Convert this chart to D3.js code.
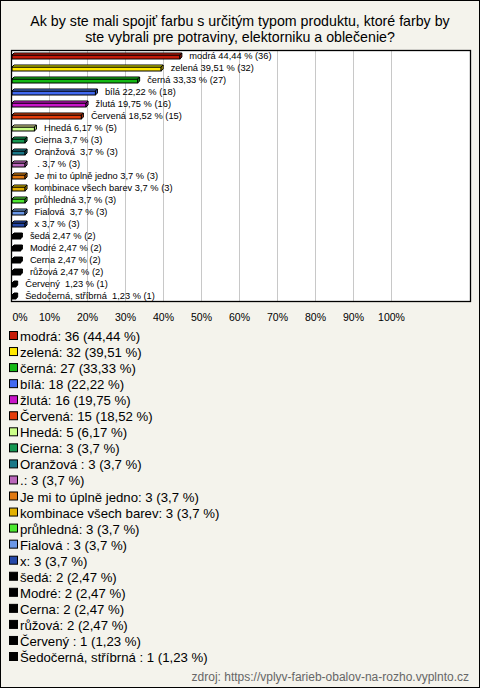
<!DOCTYPE html>
<html><head><meta charset="utf-8">
<script src="https://cdn.jsdelivr.net/npm/d3@7"></script>
<style>
html,body{margin:0;padding:0;background:#f4f3ec;}
svg text{font-family:"Liberation Sans",Arial,sans-serif;white-space:pre;}
</style></head>
<body>
<svg id="c" width="480" height="688"></svg>
<script>
const categories = ["modrá","zelená","černá","bílá","žlutá","Červená","Hnedá","Cierna","Oranžová ",".","Je mi to úplně jedno","kombinace všech barev","průhledná","Fialová ","x","šedá","Modré","Cerna","růžová","Červený ","Šedočerná, stříbrná "];
const counts = [36,32,27,18,16,15,5,3,3,3,3,3,3,3,3,2,2,2,2,1,1];
const percents = ["44,44","39,51","33,33","22,22","19,75","18,52","6,17","3,7","3,7","3,7","3,7","3,7","3,7","3,7","3,7","2,47","2,47","2,47","2,47","1,23","1,23"];
const shares = [0.4444,0.3951,0.3333,0.2222,0.1975,0.1852,0.0617,0.037,0.037,0.037,0.037,0.037,0.037,0.037,0.037,0.0247,0.0247,0.0247,0.0247,0.0123,0.0123];
const colors = ["#c41a08","#ffe800","#14b814","#4169f0","#c814c8","#e43c0c","#ccff88","#149650","#1a7888","#bb66bb","#e07810","#e2b000","#4ce830","#6b98e8","#2548a8","#000","#000","#000","#000","#000","#000"];
const tickValues = [0,0.1,0.2,0.3,0.4,0.5,0.6,0.7,0.8,0.9,1.0];
const tickLabels = ["0%","10%","20%","30%","40%","50%","60%","70%","80%","90%","100%"];
const title = ["Ak by ste mali spojiť farbu s určitým typom produktu, ktoré farby by","ste vybrali pre potraviny, elektorniku a oblečenie?"];
const source = "zdroj: https://vplyv-farieb-obalov-na-rozho.vyplnto.cz";

const svg = d3.select("#c");
svg.append("rect").attr("x",0.5).attr("y",0.5).attr("width",479).attr("height",687)
  .attr("fill","#f4f3ec").attr("stroke","#000");

svg.selectAll("text.title").data(title).join("text").attr("class","title")
  .attr("x",240).attr("y",(d,i)=>26+i*16).attr("text-anchor","middle")
  .attr("font-size",14.2).attr("fill","#000").text(d=>d);

const plot = {x0:11, x1:470, y0:50, y1:301};
const x = d3.scaleLinear().domain([0,1]).range([11,391]);
const y = d3.scaleBand().domain(d3.range(categories.length)).range([plot.y0, plot.y0 + 12*categories.length]).padding(0);

svg.append("rect").attr("x",plot.x0+0.5).attr("y",plot.y0+0.5)
  .attr("width",plot.x1-plot.x0).attr("height",plot.y1-plot.y0)
  .attr("fill","#fff").attr("stroke","none");
svg.selectAll("line.grid").data(tickValues.slice(1)).join("line").attr("class","grid")
  .attr("x1",d=>Math.round(x(d))+0.5).attr("x2",d=>Math.round(x(d))+0.5)
  .attr("y1",plot.y0).attr("y2",plot.y1).attr("stroke","#c8c8c8").attr("stroke-width",1);

const d = 2;
const g = svg.append("g");
categories.forEach((c,i)=>{
  const cy = y(i) + y.bandwidth()/2;
  const x0 = x(0)+1, xv = x(shares[i]);
  const top = cy - 1, bot = cy + 3;
  const col = d3.color(colors[i]);
  const light = colors[i]==="#000" ? "#000" : col.brighter(0.6).formatHex();
  const dark = colors[i]==="#000" ? "#000" : col.darker(0.5).formatHex();
  g.append("rect").attr("x",x0).attr("y",top).attr("width",Math.max(1,xv-x0)).attr("height",bot-top)
    .attr("fill",colors[i]).attr("stroke","#000").attr("stroke-width",1);
  g.append("path").attr("d",`M${x0},${top}L${x0+d},${top-d}L${xv+d},${top-d}L${xv},${top}Z`)
    .attr("fill",light).attr("stroke","#000").attr("stroke-width",1).attr("stroke-linejoin","round");
  g.append("path").attr("d",`M${xv},${top}L${xv+d},${top-d}L${xv+d},${bot-d}L${xv},${bot}Z`)
    .attr("fill",dark).attr("stroke","#000").attr("stroke-width",1).attr("stroke-linejoin","round");
  const lbl = (c==="." ? " ." : c) + " " + percents[i] + " % (" + counts[i] + ")";
  g.append("text").attr("x",xv+9.5).attr("y",cy+3.3).attr("font-size",9.3)
    .attr("fill","#000").text(lbl);
});

svg.append("rect").attr("x",plot.x0+0.5).attr("y",plot.y0+0.5)
  .attr("width",plot.x1-plot.x0).attr("height",plot.y1-plot.y0)
  .attr("fill","none").attr("stroke","#000").attr("stroke-width",1.3);

const axis = d3.axisBottom(x).tickValues(tickValues).tickSize(0).tickFormat((v,i)=>tickLabels[i]);
const ax = svg.append("g").attr("transform",`translate(0,${plot.y1+10})`).call(axis);
ax.select(".domain").remove();
ax.selectAll("text").attr("font-size",10.5).attr("fill","#000").attr("font-family","Liberation Sans, Arial, sans-serif");
ax.selectAll(".tick").filter(v=>v===0).select("text").attr("text-anchor","start").attr("x",1);

const leg = svg.append("g");
categories.forEach((c,i)=>{
  const cy = 336 + i*16.05;
  leg.append("rect").attr("x",9.5).attr("y",cy-4.5).attr("width",8).attr("height",8)
    .attr("fill",colors[i]).attr("stroke","#000").attr("stroke-width",1);
  leg.append("text").attr("x",20).attr("y",cy+5).attr("font-size",13.2).attr("fill","#000")
    .text(c + ": " + counts[i] + " (" + percents[i] + " %)");
});

svg.append("text").attr("x",469).attr("y",681).attr("text-anchor","end")
  .attr("font-size",12).attr("fill","#666").text(source);
</script>
</body></html>
